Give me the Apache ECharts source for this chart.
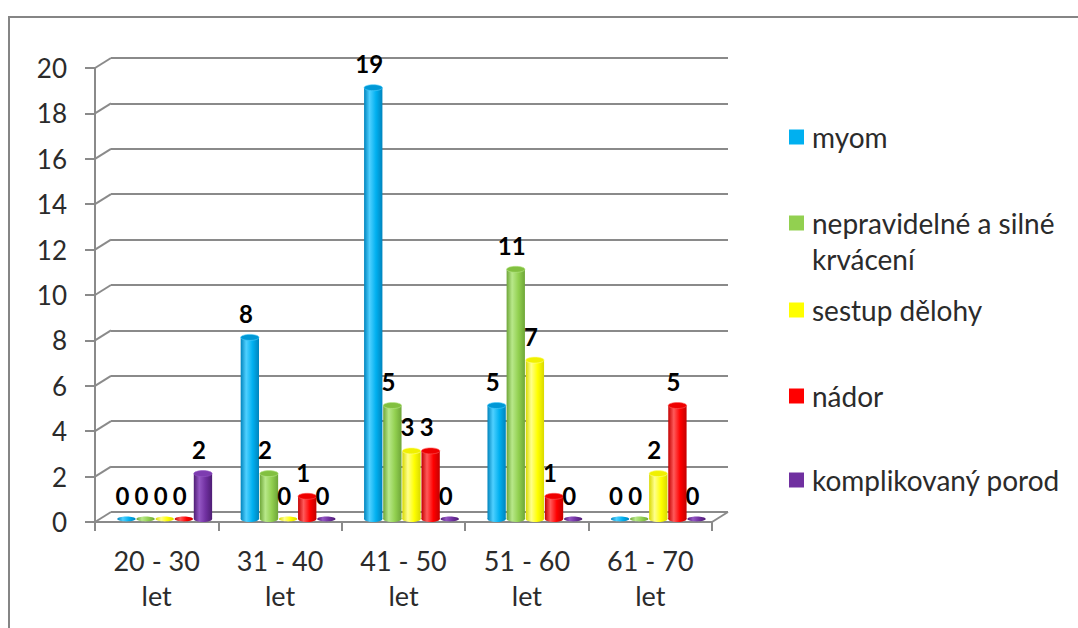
<!DOCTYPE html>
<html lang="cs">
<head>
<meta charset="utf-8">
<title>Indikace podle věku</title>
<script src="https://cdn.jsdelivr.net/npm/echarts@6/dist/echarts.min.js"></script>
<style>
  html, body { margin: 0; padding: 0; background: #ffffff; }
  #chart { width: 1078px; height: 628px; }
</style>
</head>
<body>
<div id="chart"></div>
<script>
// Age groups along the horizontal axis
const categories = ['20 - 30 let', '31 - 40 let', '41 - 50 let', '51 - 60 let', '61 - 70 let'];

// Counts per diagnosis in each age group
const myom = [0, 8, 19, 5, 0];
const krvaceni = [0, 2, 5, 11, 0];
const sestup = [0, 0, 3, 7, 2];
const nador = [0, 1, 3, 1, 5];
const porod = [2, 0, 0, 0, 0];

const seriesNames = ['myom', 'nepravidelné a silné krvácení', 'sestup dělohy', 'nádor', 'komplikovaný porod'];

// Value axis range and tick step
const Y_MIN = 0;
const Y_MAX = 20;
const Y_STEP = 2;

// Base, edge, highlight and cap colours for each cylinder
const palettes = [
  { base: '#00B0F0', edge: '#0084bd', light: '#4fd0ff', cap: '#0098d6' },
  { base: '#92D050', edge: '#6ea638', light: '#b8e88a', cap: '#82c040' },
  { base: '#FFFF00', edge: '#d9d900', light: '#ffff8c', cap: '#f0f000' },
  { base: '#FF0000', edge: '#c40000', light: '#ff5a5a', cap: '#ee0000' },
  { base: '#7030A0', edge: '#4e1d74', light: '#9457c4', cap: '#7d3cb0' }
];

const seriesValues = [myom, krvaceni, sestup, nador, porod];

const FONT = 'Lato, "Open Sans", "Liberation Sans", sans-serif';
const FRAME = '#8a8a8a';
const TEXT = '#2b2b2b';

// Depth of the 3D box: the back wall sits up and right of the front plane
const DEPTH_DX = 16;
const DEPTH_DY = -10;
const BAR_RATIO = 0.155;

const PLOT_W = 617;
const PLOT_H = 454;

function cylinder(idx) {
  const pal = palettes[idx];
  return function (params, api) {
    const i = api.value(0);
    const v = api.value(1);
    const base = api.coord([i, 0]);
    const top = api.coord([i, v]);
    const band = api.size([1, 0])[0];
    const w = band * BAR_RATIO;
    const cx = base[0] + (idx - 2) * w;
    const rx = w / 2 - 0.4;
    const ry = 3;
    const body = {
      type: 'linear', x: 0, y: 0, x2: 1, y2: 0,
      colorStops: [
        { offset: 0, color: pal.edge },
        { offset: 0.3, color: pal.light },
        { offset: 0.65, color: pal.base },
        { offset: 1, color: pal.edge }
      ]
    };
    const children = [];
    if (v > 0) {
      children.push({ type: 'ellipse', shape: { cx: cx, cy: base[1], rx: rx, ry: ry }, style: { fill: body } });
      children.push({ type: 'rect', shape: { x: cx - rx, y: top[1], width: rx * 2, height: base[1] - top[1] }, style: { fill: body } });
      children.push({ type: 'ellipse', shape: { cx: cx, cy: top[1], rx: rx, ry: ry }, style: { fill: pal.cap, stroke: pal.light, lineWidth: 0.6 } });
    } else {
      children.push({ type: 'ellipse', shape: { cx: cx, cy: base[1], rx: rx, ry: 2.4 }, style: { fill: body } });
    }
    children.push({
      type: 'text',
      style: {
        text: String(v),
        x: cx - 4,
        y: top[1] - 24,
        align: 'center',
        verticalAlign: 'middle',
        fontFamily: FONT,
        fontWeight: 'bold',
        fontSize: 24,
        fill: '#000000'
      }
    });
    return { type: 'group', children: children };
  };
}

const barSeries = seriesValues.map(function (vals, idx) {
  return {
    name: seriesNames[idx],
    type: 'custom',
    xAxisIndex: 2,
    yAxisIndex: 2,
    clip: false,
    z: 5,
    itemStyle: { color: palettes[idx].base },
    data: vals.map(function (v, i) { return [i, v]; }),
    encode: { x: 0, y: 1 },
    renderItem: cylinder(idx)
  };
});

// Tick values that get a diagonal from the front axis to the back wall
const tickValues = [];
for (let t = Y_MIN; t <= Y_MAX; t += Y_STEP) tickValues.push(t);

const frameSeries = [
  {
    type: 'custom',
    name: 'wall-edges',
    xAxisIndex: 0,
    yAxisIndex: 0,
    silent: true,
    clip: false,
    z: 2,
    data: tickValues.map(function (t) { return [0, t]; }),
    encode: { x: 0, y: 1 },
    renderItem: function (params, api) {
      const y = api.coord([0, api.value(1)])[1];
      const x = params.coordSys.x;
      return {
        type: 'line',
        shape: { x1: x, y1: y, x2: x + DEPTH_DX, y2: y + DEPTH_DY },
        style: { stroke: FRAME, lineWidth: 2 }
      };
    }
  },
  {
    type: 'custom',
    name: 'floor-edge',
    xAxisIndex: 0,
    yAxisIndex: 0,
    silent: true,
    clip: false,
    z: 2,
    data: [[0, 0]],
    encode: { x: 0, y: 1 },
    renderItem: function (params, api) {
      const y = api.coord([0, 0])[1];
      const x = params.coordSys.x + params.coordSys.width;
      return {
        type: 'line',
        shape: { x1: x, y1: y, x2: x + DEPTH_DX, y2: y + DEPTH_DY },
        style: { stroke: FRAME, lineWidth: 2 }
      };
    }
  }
];

// Legend entries: one block per diagnosis, stacked on the right.
// The two-line entry gets an empty leading line so its marker sits beside the first text line.
const legendTops = [119, 169, 292, 378, 462];
const legends = seriesNames.map(function (name, idx) {
  const twoLine = idx === 1;
  return {
    data: [{ name: name, icon: 'rect' }],
    left: 789,
    top: legendTops[idx],
    padding: 0,
    itemWidth: 15,
    itemHeight: 15,
    formatter: twoLine ? function () { return ' \nnepravidelné a silné\nkrvácení'; } : '{name}',
    textStyle: {
      fontFamily: FONT,
      fontSize: 28,
      lineHeight: 36,
      color: TEXT,
      padding: [0, 0, 0, 3]
    }
  };
});

const chart = echarts.init(document.getElementById('chart'), null, { renderer: 'svg' });

chart.setOption({
  backgroundColor: '#ffffff',
  animation: false,
  textStyle: { fontFamily: FONT },
  graphic: [
    {
      type: 'rect',
      silent: true,
      z: -10,
      shape: { x: 9, y: 17, width: 1100, height: 700 },
      style: { fill: 'none', stroke: '#858585', lineWidth: 2 }
    }
  ],
  legend: legends,
  grid: [
    // front plane: axes, ticks and labels
    { left: 95, top: 68, width: PLOT_W, height: PLOT_H },
    // back wall: horizontal gridlines
    { left: 95 + DEPTH_DX, top: 68 + DEPTH_DY, width: PLOT_W, height: PLOT_H },
    // middle depth: cylinders
    { left: 103, top: 65, width: PLOT_W, height: PLOT_H }
  ],
  xAxis: [
    {
      type: 'category',
      gridIndex: 0,
      data: categories,
      axisLine: { show: true, lineStyle: { color: FRAME, width: 2 } },
      axisTick: { show: true, alignWithLabel: false, length: 9, lineStyle: { color: FRAME, width: 2 } },
      axisLabel: {
        interval: 0,
        margin: 21,
        fontFamily: FONT,
        fontSize: 27,
        lineHeight: 35,
        color: TEXT,
        formatter: function (v) { return v.replace(' let', '\nlet'); }
      },
      splitLine: { show: false }
    },
    { type: 'category', gridIndex: 1, data: categories, show: false },
    { type: 'category', gridIndex: 2, data: categories, show: false }
  ],
  yAxis: [
    {
      type: 'value',
      gridIndex: 0,
      min: Y_MIN,
      max: Y_MAX,
      interval: Y_STEP,
      axisLine: { show: true, lineStyle: { color: FRAME, width: 2 } },
      axisTick: { show: true, length: 10, lineStyle: { color: FRAME, width: 2 } },
      axisLabel: { margin: 28, fontFamily: FONT, fontSize: 26, color: TEXT },
      splitLine: { show: false }
    },
    {
      type: 'value',
      gridIndex: 1,
      min: Y_MIN,
      max: Y_MAX,
      interval: Y_STEP,
      axisLine: { show: false },
      axisTick: { show: false },
      axisLabel: { show: false },
      splitLine: { show: true, lineStyle: { color: FRAME, width: 2 } }
    },
    {
      type: 'value',
      gridIndex: 2,
      min: Y_MIN,
      max: Y_MAX,
      interval: Y_STEP,
      show: false,
      splitLine: { show: false }
    }
  ],
  series: frameSeries.concat(barSeries)
});
</script>
</body>
</html>
